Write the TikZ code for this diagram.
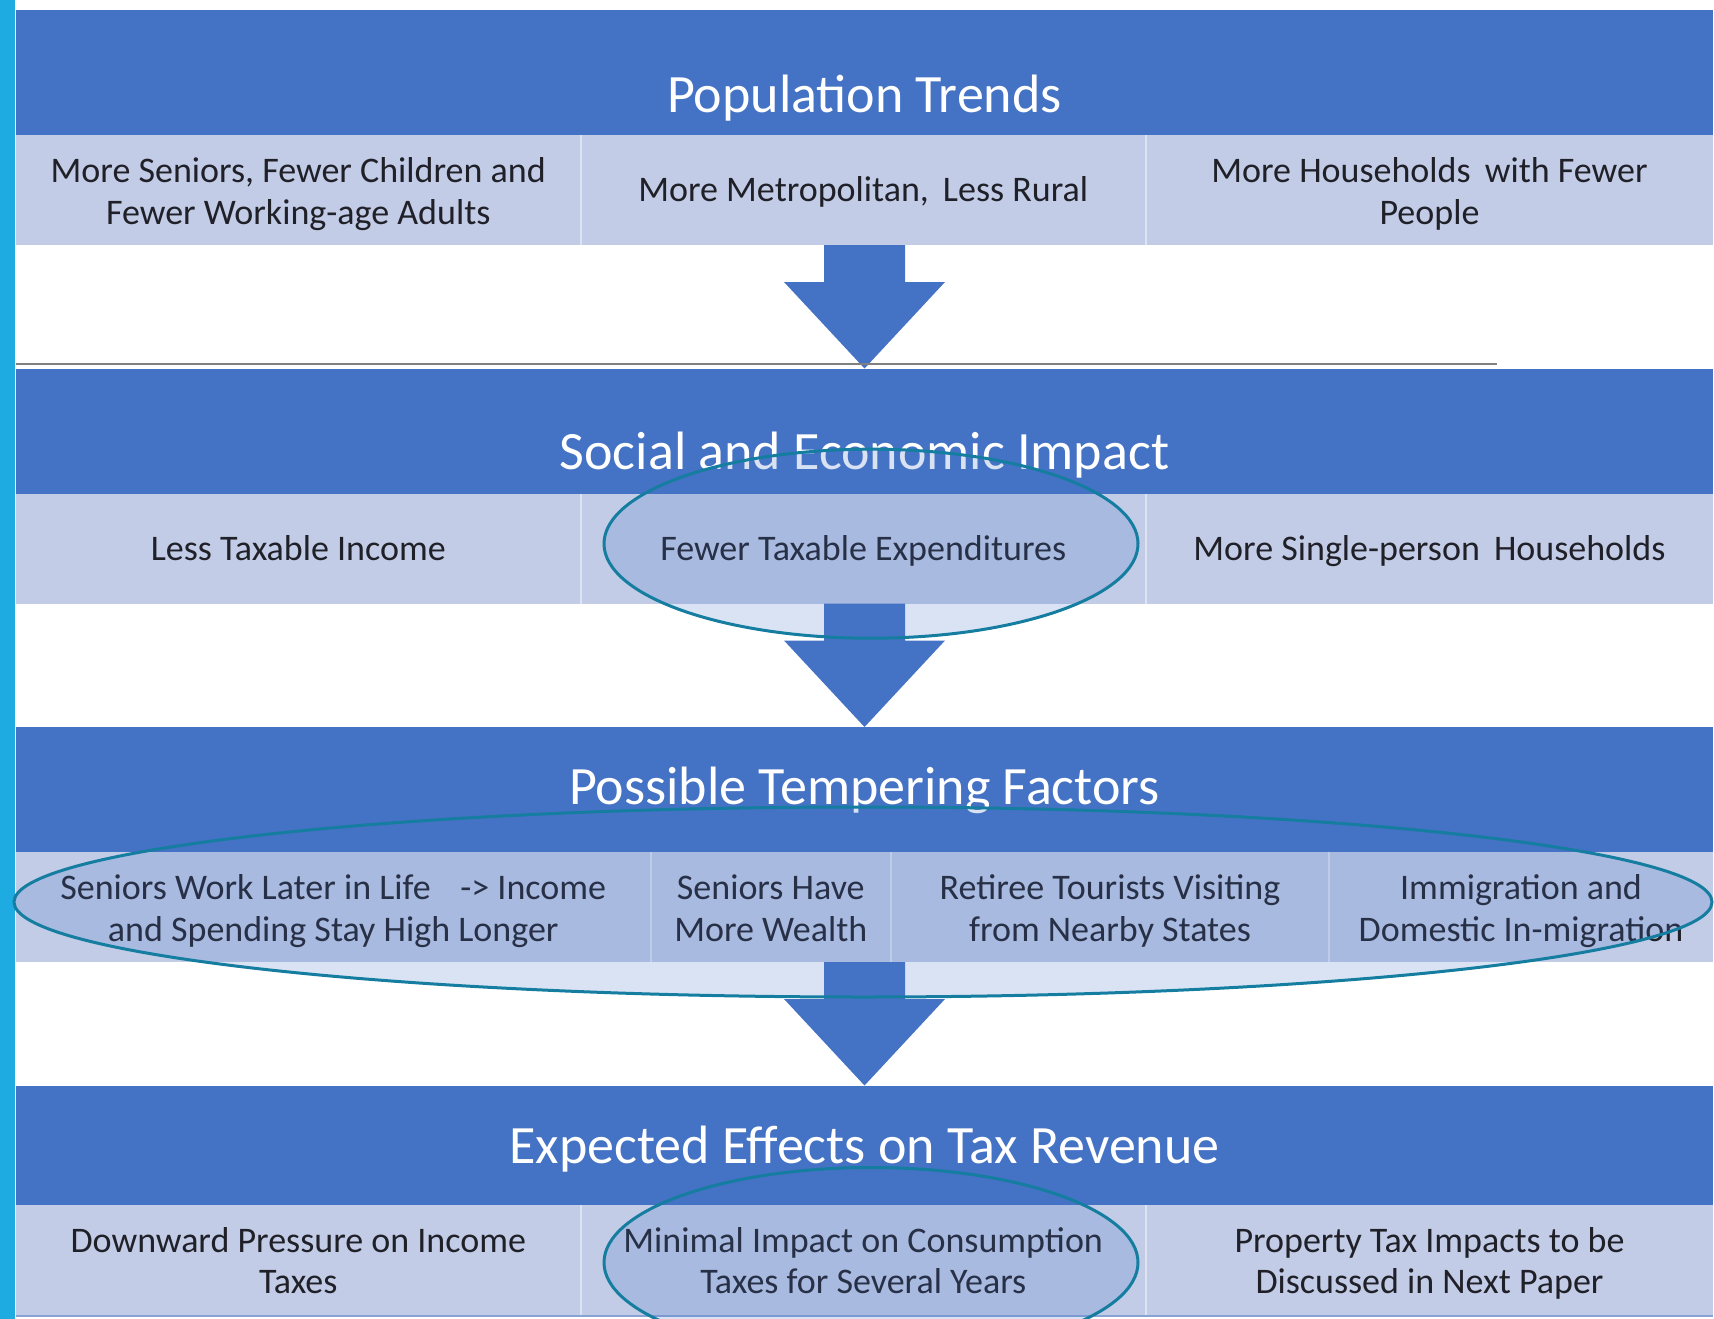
\documentclass[tikz,border=0pt]{standalone}
\usepackage{fontspec}
\setmainfont{Carlito}
\usetikzlibrary{shapes.geometric}
\definecolor{hdrblue}{RGB}{68,114,196}
\definecolor{cellblue}{RGB}{194,204,230}
\definecolor{ringteal}{RGB}{20,125,160}
\definecolor{sidecyan}{RGB}{29,171,226}
\definecolor{txtdark}{RGB}{32,32,40}

\begin{document}
\begin{tikzpicture}[x=1pt,y=-1pt,
  hdr/.style={fill=hdrblue,inner sep=0pt,outer sep=0pt,minimum width=1697pt},
  ttl/.style={text=white,anchor=base,inner sep=0pt,font=\fontsize{54}{60}\selectfont},
  cell/.style={fill=cellblue,inner sep=0pt,outer sep=0pt,minimum height=110pt,text=txtdark,align=center,
    font=\fontsize{36}{41.5}\selectfont,text height=30pt,text depth=6.5pt},
  twoline/.style={text height=70pt,text depth=2pt},
  ring/.style={ellipse,draw=ringteal,line width=3pt,fill=hdrblue,fill opacity=0.2,inner sep=0pt},
  divider/.style={draw=white,draw opacity=0.45,line width=2pt}]

\useasboundingbox (0,0) rectangle (1714,1319);
\clip (0,0) rectangle (1714,1319);
\fill[sidecyan] (0,0) rectangle (15,1319);

% headers
\node[hdr,minimum height=125pt] (h1) at (864.5,72.5) {};
\node[hdr,minimum height=125pt] (h2) at (864.5,431) {};
\node[hdr,minimum height=125pt] (h3) at (864.5,789.5) {};
\node[hdr,minimum height=119pt] (h4) at (864.5,1145) {};

\node[ttl] (t1) at (864.5,112.5) {Population Trends};
\node[ttl] (t2) at (864.5,469) {Social and Economic Impact};
\node[ttl] (t3) at (864.5,804) {Possible Tempering Factors};
\node[ttl] (t4) at (864.5,1163) {Expected Effects on Tax Revenue};

% row 1
\node[cell,twoline,minimum width=564.5pt] (c11) at (298.25,190) {More Seniors, Fewer Children and\\Fewer Working-age Adults};
\node[cell,minimum width=565.5pt] (c12) at (863.25,190) {More Metropolitan,\, Less Rural};
\node[cell,twoline,minimum width=567pt] (c13) at (1429.5,190) {More Households\, with Fewer\\People};

% row 2
\node[cell,minimum width=564.5pt] (c21) at (298.25,548.5) {Less Taxable Income};
\node[cell,minimum width=565.5pt] (c22) at (863.25,548.5) {Fewer Taxable Expenditures};
\node[cell,minimum width=567pt] (c23) at (1429.5,548.5) {More Single-person\, Households};

% row 3
\node[cell,twoline,minimum width=634.5pt] (c31) at (333.25,907) {Seniors Work Later in Life\hspace{0.6em} -> Income\\and Spending Stay High Longer};
\node[cell,twoline,minimum width=240.5pt] (c32) at (770.75,907) {Seniors Have\\More Wealth};
\node[cell,twoline,minimum width=438pt] (c33) at (1110,907) {Retiree Tourists Visiting\\from Nearby States};
\node[cell,twoline,minimum width=384pt] (c34) at (1521,907) {Immigration and\\Domestic In-migration};

% row 4
\node[cell,twoline,minimum width=564.5pt] (c41) at (298.25,1259.5) {Downward Pressure on Income\\Taxes};
\node[cell,twoline,minimum width=565.5pt] (c42) at (863.25,1259.5) {Minimal Impact on Consumption\\Taxes for Several Years};
\node[cell,twoline,minimum width=567pt] (c43) at (1429.5,1259.5) {Property Tax Impacts to be\\Discussed in Next Paper};

\draw[divider] (c11.north east) -- (c11.south east);
\draw[divider] (c12.north east) -- (c12.south east);
\draw[divider] (c21.north east) -- (c21.south east);
\draw[divider] (c22.north east) -- (c22.south east);
\draw[divider] (c31.north east) -- (c31.south east);
\draw[divider] (c32.north east) -- (c32.south east);
\draw[divider] (c33.north east) -- (c33.south east);
\draw[divider] (c41.north east) -- (c41.south east);
\draw[divider] (c42.north east) -- (c42.south east);

% arrows
\foreach \ya/\yb in {245/368.5,603.5/727,962/1085.5}
  \fill[hdrblue] (824,\ya) -- (905,\ya) -- (905,{\ya+37}) -- (945,{\ya+37})
    -- (864.5,\yb) -- (784,{\ya+37}) -- (824,{\ya+37}) -- cycle;

\draw[gray,line width=1.2pt] (16,364) -- (1497,364);
\fill[cellblue!55!hdrblue] (16,1314.5) rectangle (1713,1317);

% highlights
\node[ring,minimum width=534pt,minimum height=189pt] (e1) at (871,543.7) {};
\node[ring,minimum width=1698pt,minimum height=190pt] (e2) at (863,902) {};
\node[ring,minimum width=534pt,minimum height=190pt] (e3) at (871,1262.5) {};
\end{tikzpicture}
\end{document}
